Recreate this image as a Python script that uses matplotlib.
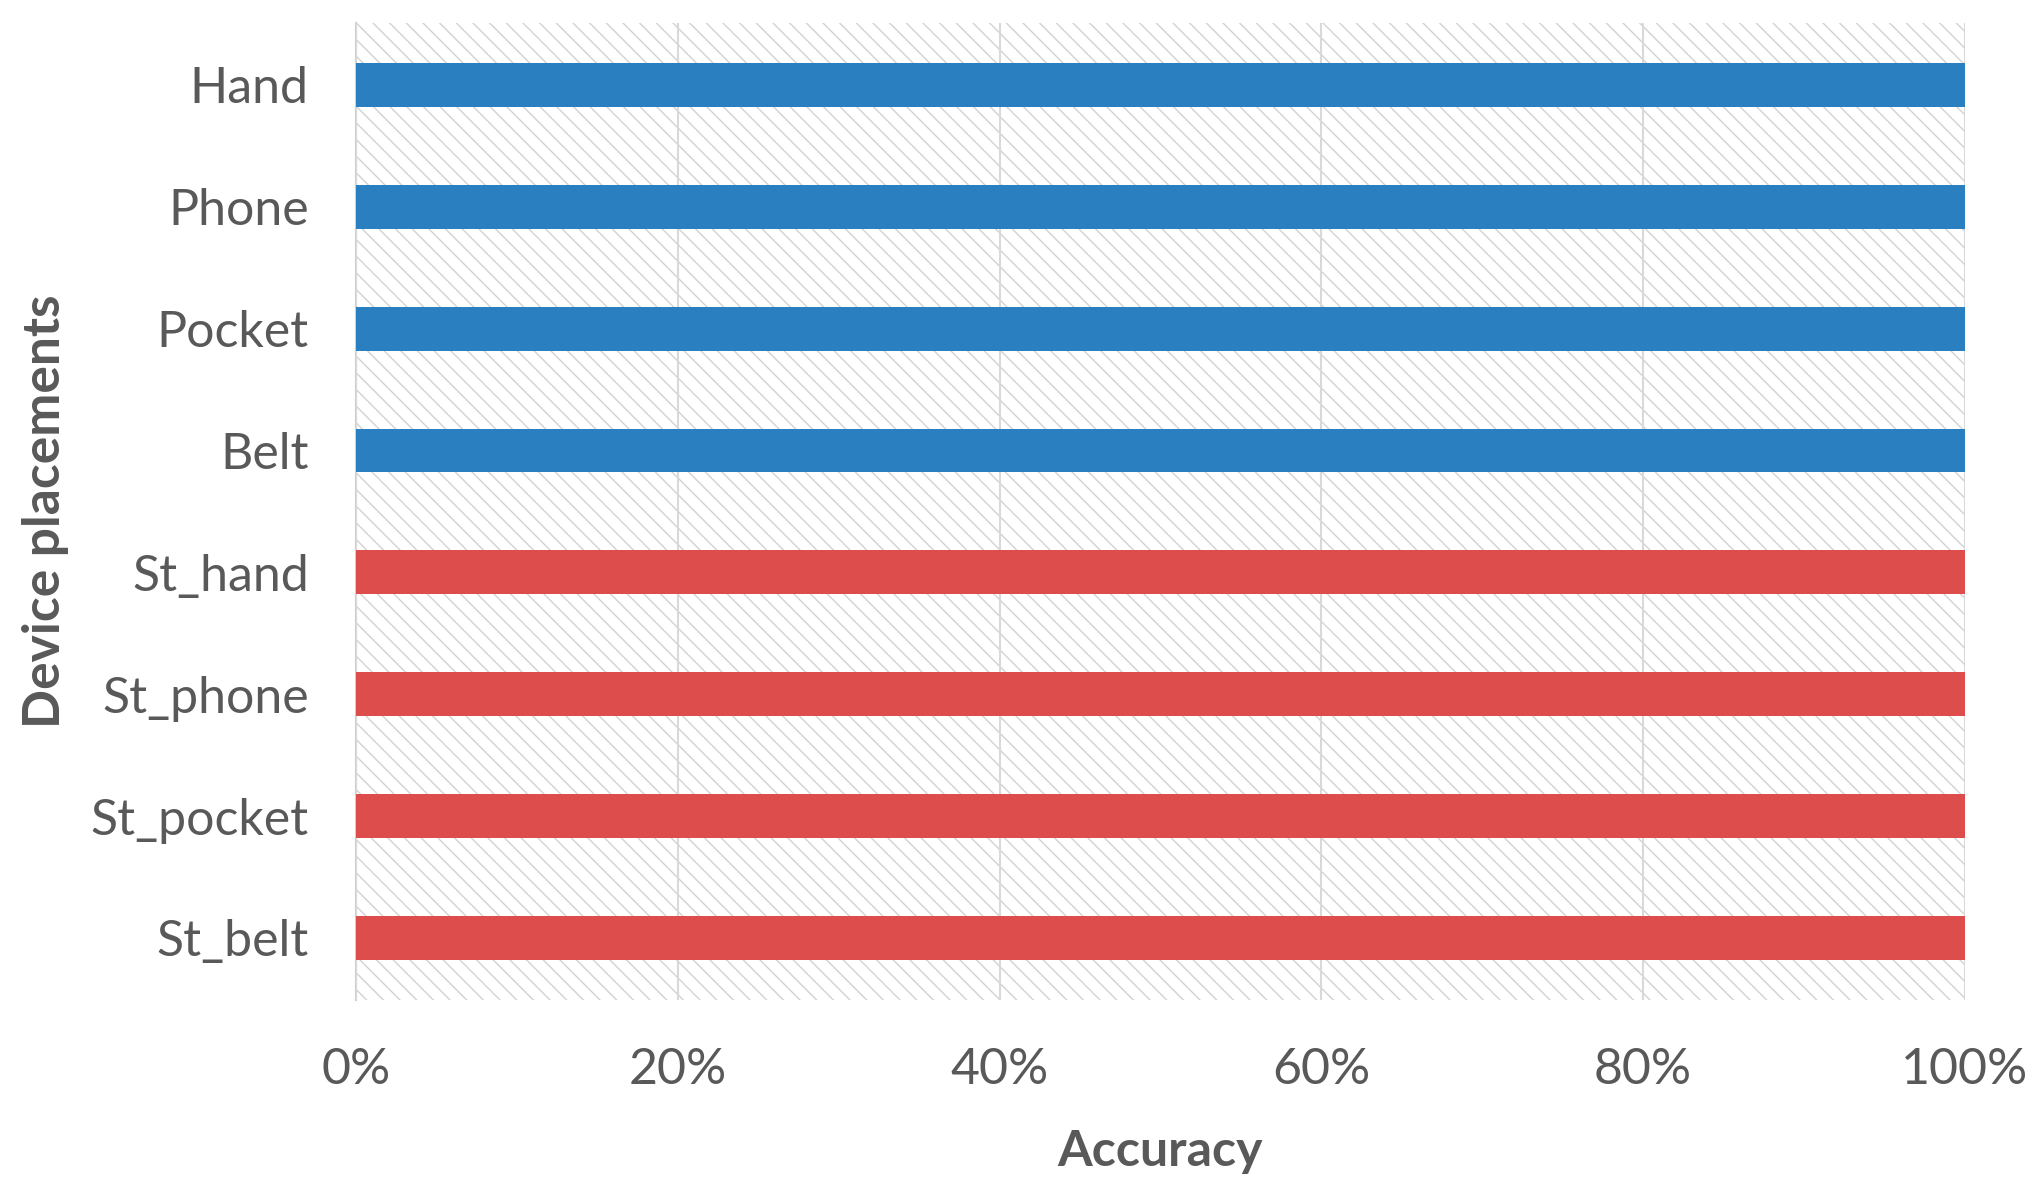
import numpy as np
import matplotlib.pyplot as plt
from matplotlib.ticker import PercentFormatter

# Data
placements = ['Hand', 'Phone', 'Pocket', 'Belt', 'St_hand', 'St_phone', 'St_pocket', 'St_belt']
accuracy = [1.0, 1.0, 1.0, 1.0, 1.0, 1.0, 1.0, 1.0]
groups = ['real', 'real', 'real', 'real', 'st', 'st', 'st', 'st']
group_colors = {'real': '#2A7FC0', 'st': '#DC4D4B'}
x_ticks = [0, 0.2, 0.4, 0.6, 0.8, 1.0]

plt.rcParams['font.family'] = ['Lato', 'DejaVu Sans']
plt.rcParams['hatch.linewidth'] = 1.0

fig = plt.figure(figsize=(20.43, 12.03), dpi=100)
ax = fig.add_axes([0.1743, 0.1687, 0.7875, 0.8123])

y = np.arange(len(placements))[::-1]
colors = [group_colors[g] for g in groups]

# hatched plot area background
ax.axvspan(0, 1, facecolor='white', edgecolor='#d2d2d2', hatch='\\\\', linewidth=0, zorder=0)

ax.barh(y, accuracy, height=0.36, color=colors, zorder=3)

ax.set_xlim(0, 1)
ax.set_ylim(-0.51, len(placements) - 0.49)
ax.set_xticks(x_ticks)
ax.xaxis.set_major_formatter(PercentFormatter(1.0, decimals=0))
ax.set_yticks(y)
ax.set_yticklabels(placements)

ax.grid(axis='x', color='#d9d9d9', linewidth=1.5, zorder=1)
ax.set_axisbelow(False)
for s in ['top', 'right', 'bottom']:
    ax.spines[s].set_visible(False)
ax.spines['left'].set_color('#d0d0d0')
ax.spines['left'].set_linewidth(1.5)

ax.tick_params(axis='both', length=0, labelsize=36, labelcolor='#595959')
ax.tick_params(axis='y', pad=34)
ax.tick_params(axis='x', pad=34)

ax.set_xlabel('Accuracy', fontsize=36, fontweight='bold', color='#595959', labelpad=26)
ax.set_ylabel('Device placements', fontsize=37, fontweight='bold', color='#595959', labelpad=16)

fig.savefig('out.png', dpi=100)
